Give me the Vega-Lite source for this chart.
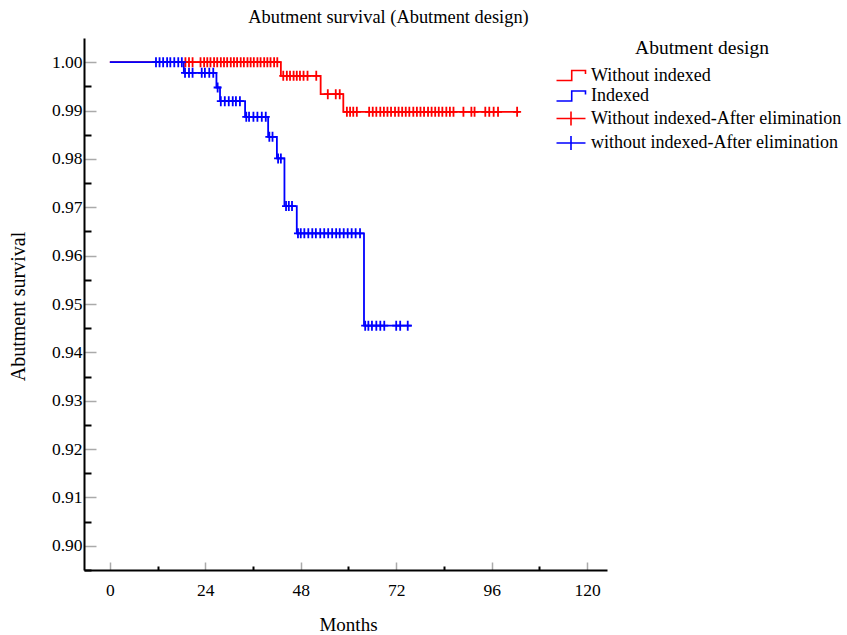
{
  "$schema": "https://vega.github.io/schema/vega-lite/v6.json",
  "width": 523,
  "height": 532,
  "autosize": "none",
  "padding": {"left": 84, "top": 38, "right": 240, "bottom": 65},
  "background": "white",
  "title": {"text": "Abutment survival (Abutment design)", "font": "Liberation Serif", "fontSize": 18.4, "fontWeight": "normal", "color": "black", "anchor": "middle", "dx": 43, "offset": 12},
  "config": {"view": {"stroke": null}, "axis": {"grid": false, "labelFont": "Liberation Serif", "titleFont": "Liberation Serif", "labelColor": "black", "titleColor": "black", "titleFontWeight": "normal"}},
  "datasets": {
    "curves": [
      {"series": "Without indexed", "month": 0, "survival": 1.0},
      {"series": "Without indexed", "month": 43.0, "survival": 0.99717},
      {"series": "Without indexed", "month": 53.0, "survival": 0.99339},
      {"series": "Without indexed", "month": 58.7, "survival": 0.98973},
      {"series": "Without indexed", "month": 103.0, "survival": 0.98973},
      {"series": "Indexed", "month": 0, "survival": 1.0},
      {"series": "Indexed", "month": 18.6, "survival": 0.99779},
      {"series": "Indexed", "month": 26.8, "survival": 0.99477},
      {"series": "Indexed", "month": 27.7, "survival": 0.99194},
      {"series": "Indexed", "month": 34.0, "survival": 0.9887},
      {"series": "Indexed", "month": 39.8, "survival": 0.98457},
      {"series": "Indexed", "month": 42.0, "survival": 0.9801},
      {"series": "Indexed", "month": 43.9, "survival": 0.97025},
      {"series": "Indexed", "month": 47.0, "survival": 0.96461},
      {"series": "Indexed", "month": 63.9, "survival": 0.94552},
      {"series": "Indexed", "month": 75.9, "survival": 0.94552}
    ],
    "censored": [
      {"series": "Without indexed-After elimination", "month": 19.0, "survival": 1.0},
      {"series": "Without indexed-After elimination", "month": 19.9, "survival": 1.0},
      {"series": "Without indexed-After elimination", "month": 20.8, "survival": 1.0},
      {"series": "Without indexed-After elimination", "month": 22.8, "survival": 1.0},
      {"series": "Without indexed-After elimination", "month": 23.7, "survival": 1.0},
      {"series": "Without indexed-After elimination", "month": 24.5, "survival": 1.0},
      {"series": "Without indexed-After elimination", "month": 25.3, "survival": 1.0},
      {"series": "Without indexed-After elimination", "month": 26.2, "survival": 1.0},
      {"series": "Without indexed-After elimination", "month": 27.0, "survival": 1.0},
      {"series": "Without indexed-After elimination", "month": 27.9, "survival": 1.0},
      {"series": "Without indexed-After elimination", "month": 28.7, "survival": 1.0},
      {"series": "Without indexed-After elimination", "month": 29.5, "survival": 1.0},
      {"series": "Without indexed-After elimination", "month": 30.4, "survival": 1.0},
      {"series": "Without indexed-After elimination", "month": 31.2, "survival": 1.0},
      {"series": "Without indexed-After elimination", "month": 32.0, "survival": 1.0},
      {"series": "Without indexed-After elimination", "month": 32.9, "survival": 1.0},
      {"series": "Without indexed-After elimination", "month": 33.7, "survival": 1.0},
      {"series": "Without indexed-After elimination", "month": 34.6, "survival": 1.0},
      {"series": "Without indexed-After elimination", "month": 35.4, "survival": 1.0},
      {"series": "Without indexed-After elimination", "month": 36.2, "survival": 1.0},
      {"series": "Without indexed-After elimination", "month": 37.1, "survival": 1.0},
      {"series": "Without indexed-After elimination", "month": 37.9, "survival": 1.0},
      {"series": "Without indexed-After elimination", "month": 38.8, "survival": 1.0},
      {"series": "Without indexed-After elimination", "month": 39.6, "survival": 1.0},
      {"series": "Without indexed-After elimination", "month": 40.4, "survival": 1.0},
      {"series": "Without indexed-After elimination", "month": 41.3, "survival": 1.0},
      {"series": "Without indexed-After elimination", "month": 42.1, "survival": 1.0},
      {"series": "Without indexed-After elimination", "month": 43.6, "survival": 0.99717},
      {"series": "Without indexed-After elimination", "month": 44.5, "survival": 0.99717},
      {"series": "Without indexed-After elimination", "month": 45.3, "survival": 0.99717},
      {"series": "Without indexed-After elimination", "month": 46.2, "survival": 0.99717},
      {"series": "Without indexed-After elimination", "month": 47.0, "survival": 0.99717},
      {"series": "Without indexed-After elimination", "month": 47.8, "survival": 0.99717},
      {"series": "Without indexed-After elimination", "month": 48.7, "survival": 0.99717},
      {"series": "Without indexed-After elimination", "month": 49.7, "survival": 0.99717},
      {"series": "Without indexed-After elimination", "month": 51.9, "survival": 0.99717},
      {"series": "Without indexed-After elimination", "month": 54.8, "survival": 0.99339},
      {"series": "Without indexed-After elimination", "month": 56.8, "survival": 0.99339},
      {"series": "Without indexed-After elimination", "month": 57.8, "survival": 0.99339},
      {"series": "Without indexed-After elimination", "month": 59.6, "survival": 0.98973},
      {"series": "Without indexed-After elimination", "month": 60.4, "survival": 0.98973},
      {"series": "Without indexed-After elimination", "month": 61.2, "survival": 0.98973},
      {"series": "Without indexed-After elimination", "month": 62.1, "survival": 0.98973},
      {"series": "Without indexed-After elimination", "month": 65.2, "survival": 0.98973},
      {"series": "Without indexed-After elimination", "month": 66.1, "survival": 0.98973},
      {"series": "Without indexed-After elimination", "month": 67.0, "survival": 0.98973},
      {"series": "Without indexed-After elimination", "month": 68.0, "survival": 0.98973},
      {"series": "Without indexed-After elimination", "month": 68.9, "survival": 0.98973},
      {"series": "Without indexed-After elimination", "month": 69.8, "survival": 0.98973},
      {"series": "Without indexed-After elimination", "month": 70.7, "survival": 0.98973},
      {"series": "Without indexed-After elimination", "month": 71.7, "survival": 0.98973},
      {"series": "Without indexed-After elimination", "month": 72.6, "survival": 0.98973},
      {"series": "Without indexed-After elimination", "month": 73.5, "survival": 0.98973},
      {"series": "Without indexed-After elimination", "month": 74.4, "survival": 0.98973},
      {"series": "Without indexed-After elimination", "month": 75.3, "survival": 0.98973},
      {"series": "Without indexed-After elimination", "month": 76.3, "survival": 0.98973},
      {"series": "Without indexed-After elimination", "month": 77.2, "survival": 0.98973},
      {"series": "Without indexed-After elimination", "month": 78.1, "survival": 0.98973},
      {"series": "Without indexed-After elimination", "month": 79.0, "survival": 0.98973},
      {"series": "Without indexed-After elimination", "month": 80.0, "survival": 0.98973},
      {"series": "Without indexed-After elimination", "month": 80.9, "survival": 0.98973},
      {"series": "Without indexed-After elimination", "month": 81.8, "survival": 0.98973},
      {"series": "Without indexed-After elimination", "month": 82.7, "survival": 0.98973},
      {"series": "Without indexed-After elimination", "month": 83.6, "survival": 0.98973},
      {"series": "Without indexed-After elimination", "month": 84.6, "survival": 0.98973},
      {"series": "Without indexed-After elimination", "month": 85.5, "survival": 0.98973},
      {"series": "Without indexed-After elimination", "month": 86.4, "survival": 0.98973},
      {"series": "Without indexed-After elimination", "month": 88.9, "survival": 0.98973},
      {"series": "Without indexed-After elimination", "month": 90.9, "survival": 0.98973},
      {"series": "Without indexed-After elimination", "month": 91.7, "survival": 0.98973},
      {"series": "Without indexed-After elimination", "month": 94.4, "survival": 0.98973},
      {"series": "Without indexed-After elimination", "month": 95.4, "survival": 0.98973},
      {"series": "Without indexed-After elimination", "month": 96.5, "survival": 0.98973},
      {"series": "Without indexed-After elimination", "month": 97.6, "survival": 0.98973},
      {"series": "Without indexed-After elimination", "month": 102.4, "survival": 0.98973},
      {"series": "without indexed-After elimination", "month": 11.6, "survival": 1.0},
      {"series": "without indexed-After elimination", "month": 12.5, "survival": 1.0},
      {"series": "without indexed-After elimination", "month": 13.4, "survival": 1.0},
      {"series": "without indexed-After elimination", "month": 14.4, "survival": 1.0},
      {"series": "without indexed-After elimination", "month": 15.2, "survival": 1.0},
      {"series": "without indexed-After elimination", "month": 16.2, "survival": 1.0},
      {"series": "without indexed-After elimination", "month": 17.2, "survival": 1.0},
      {"series": "without indexed-After elimination", "month": 18.1, "survival": 1.0},
      {"series": "without indexed-After elimination", "month": 18.9, "survival": 0.99779},
      {"series": "without indexed-After elimination", "month": 19.9, "survival": 0.99779},
      {"series": "without indexed-After elimination", "month": 20.8, "survival": 0.99779},
      {"series": "without indexed-After elimination", "month": 23.1, "survival": 0.99779},
      {"series": "without indexed-After elimination", "month": 23.9, "survival": 0.99779},
      {"series": "without indexed-After elimination", "month": 25.0, "survival": 0.99779},
      {"series": "without indexed-After elimination", "month": 26.0, "survival": 0.99779},
      {"series": "without indexed-After elimination", "month": 27.1, "survival": 0.99477},
      {"series": "without indexed-After elimination", "month": 27.9, "survival": 0.99194},
      {"series": "without indexed-After elimination", "month": 28.9, "survival": 0.99194},
      {"series": "without indexed-After elimination", "month": 29.9, "survival": 0.99194},
      {"series": "without indexed-After elimination", "month": 30.9, "survival": 0.99194},
      {"series": "without indexed-After elimination", "month": 31.7, "survival": 0.99194},
      {"series": "without indexed-After elimination", "month": 32.7, "survival": 0.99194},
      {"series": "without indexed-After elimination", "month": 34.3, "survival": 0.9887},
      {"series": "without indexed-After elimination", "month": 35.0, "survival": 0.9887},
      {"series": "without indexed-After elimination", "month": 36.1, "survival": 0.9887},
      {"series": "without indexed-After elimination", "month": 37.1, "survival": 0.9887},
      {"series": "without indexed-After elimination", "month": 38.2, "survival": 0.9887},
      {"series": "without indexed-After elimination", "month": 39.2, "survival": 0.9887},
      {"series": "without indexed-After elimination", "month": 40.1, "survival": 0.98457},
      {"series": "without indexed-After elimination", "month": 40.9, "survival": 0.98457},
      {"series": "without indexed-After elimination", "month": 42.3, "survival": 0.9801},
      {"series": "without indexed-After elimination", "month": 43.0, "survival": 0.9801},
      {"series": "without indexed-After elimination", "month": 44.3, "survival": 0.97025},
      {"series": "without indexed-After elimination", "month": 45.0, "survival": 0.97025},
      {"series": "without indexed-After elimination", "month": 45.8, "survival": 0.97025},
      {"series": "without indexed-After elimination", "month": 47.3, "survival": 0.96461},
      {"series": "without indexed-After elimination", "month": 48.0, "survival": 0.96461},
      {"series": "without indexed-After elimination", "month": 48.9, "survival": 0.96461},
      {"series": "without indexed-After elimination", "month": 49.9, "survival": 0.96461},
      {"series": "without indexed-After elimination", "month": 50.9, "survival": 0.96461},
      {"series": "without indexed-After elimination", "month": 51.8, "survival": 0.96461},
      {"series": "without indexed-After elimination", "month": 52.9, "survival": 0.96461},
      {"series": "without indexed-After elimination", "month": 53.9, "survival": 0.96461},
      {"series": "without indexed-After elimination", "month": 54.9, "survival": 0.96461},
      {"series": "without indexed-After elimination", "month": 55.9, "survival": 0.96461},
      {"series": "without indexed-After elimination", "month": 56.9, "survival": 0.96461},
      {"series": "without indexed-After elimination", "month": 57.8, "survival": 0.96461},
      {"series": "without indexed-After elimination", "month": 58.8, "survival": 0.96461},
      {"series": "without indexed-After elimination", "month": 59.8, "survival": 0.96461},
      {"series": "without indexed-After elimination", "month": 60.8, "survival": 0.96461},
      {"series": "without indexed-After elimination", "month": 61.8, "survival": 0.96461},
      {"series": "without indexed-After elimination", "month": 62.9, "survival": 0.96461},
      {"series": "without indexed-After elimination", "month": 64.2, "survival": 0.94552},
      {"series": "without indexed-After elimination", "month": 65.0, "survival": 0.94552},
      {"series": "without indexed-After elimination", "month": 65.9, "survival": 0.94552},
      {"series": "without indexed-After elimination", "month": 67.0, "survival": 0.94552},
      {"series": "without indexed-After elimination", "month": 68.0, "survival": 0.94552},
      {"series": "without indexed-After elimination", "month": 69.0, "survival": 0.94552},
      {"series": "without indexed-After elimination", "month": 72.0, "survival": 0.94552},
      {"series": "without indexed-After elimination", "month": 73.0, "survival": 0.94552},
      {"series": "without indexed-After elimination", "month": 74.9, "survival": 0.94552}
    ]
  },
  "layer": [
    {
      "data": {"name": "curves"},
      "transform": [{"filter": "datum.series === 'Without indexed'"}],
      "mark": {"type": "line", "interpolate": "step-after", "strokeWidth": 1.8},
      "encoding": {
        "x": {"field": "month", "type": "quantitative", "scale": {"domain": [-6.5, 125], "nice": false, "zero": false},
          "axis": {"orient": "bottom", "values": [0, 24, 48, 72, 96, 120], "title": "Months", "tickColor": "#aaaaaa", "tickSize": -8, "tickWidth": 1.5, "domainColor": "black", "domainWidth": 2, "labelPadding": 19, "labelFontSize": 17.5, "labelFlush": false, "labelOverlap": false, "titleFontSize": 19, "titleX": 264, "titleY": 60, "titleBaseline": "alphabetic", "titleAnchor": null}},
        "y": {"field": "survival", "type": "quantitative", "scale": {"domain": [0.895, 1.005], "nice": false, "zero": false},
          "axis": {"orient": "left", "values": [0.9, 0.91, 0.92, 0.93, 0.94, 0.95, 0.96, 0.97, 0.98, 0.99, 1.0], "format": ".2f", "title": "Abutment survival", "tickColor": "#aaaaaa", "tickSize": -12, "tickWidth": 1.5, "domainColor": "black", "domainWidth": 2, "labelPadding": 14, "labelFontSize": 17.5, "labelOverlap": false, "labelFlush": false, "titleFontSize": 20, "titleAngle": -90, "titleX": -66, "titleY": 268, "titleAlign": "center", "titleBaseline": "middle", "titleAnchor": null}},
        "color": {"field": "series", "type": "nominal", "scale": {"domain": ["Without indexed", "Indexed", "Without indexed-After elimination", "without indexed-After elimination"], "range": ["#ff0000", "#0000ff", "#ff0000", "#0000ff"]},
          "legend": {"title": "Abutment design", "orient": "none", "legendX": 478, "legendY": 1, "padding": 0, "titleFont": "Liberation Serif", "titleFontSize": 19.5, "titleFontWeight": "normal", "titleColor": "black", "titleAnchor": "middle", "titlePadding": 8, "labelFont": "Liberation Serif", "labelFontSize": 18, "labelColor": "black", "labelLimit": 400, "symbolSize": 210, "symbolStrokeWidth": 1.6, "labelOffset": 11, "rowPadding": 2.5,
            "encode": {"symbols": {"update": {"shape": {"signal": "indexof(['Without indexed','Indexed'], datum.value) >= 0 ? 'M-2,0.7H0.1V-0.7H2V-0.2' : 'M-2,0H2M0,-0.95V0.95'"}, "fill": {"value": "transparent"}}}}}}
      }
    },
    {
      "data": {"name": "curves"},
      "transform": [{"filter": "datum.series === 'Indexed'"}],
      "mark": {"type": "line", "interpolate": "step-after", "strokeWidth": 1.8},
      "encoding": {
        "x": {"field": "month", "type": "quantitative",
          "axis": {"orient": "bottom", "values": [12, 36, 60, 84, 108], "labels": false, "domain": false, "title": null, "tickColor": "black", "tickSize": -4, "tickWidth": 2}},
        "y": {"field": "survival", "type": "quantitative",
          "axis": {"orient": "left", "values": [0.895, 0.905, 0.915, 0.925, 0.935, 0.945, 0.955, 0.965, 0.975, 0.985, 0.995], "labels": false, "domain": false, "title": null, "tickColor": "black", "tickSize": -7, "tickWidth": 2}},
        "color": {"field": "series", "type": "nominal"}
      }
    },
    {
      "data": {"name": "censored"},
      "mark": {"type": "point", "shape": "M-0.8,0H0.8M0,-1V1", "filled": false, "strokeWidth": 1.8, "size": 100, "opacity": 1},
      "encoding": {
        "x": {"field": "month", "type": "quantitative", "axis": null},
        "y": {"field": "survival", "type": "quantitative", "axis": null},
        "color": {"field": "series", "type": "nominal"}
      }
    }
  ],
  "resolve": {"axis": {"x": "independent", "y": "independent"}}
}
